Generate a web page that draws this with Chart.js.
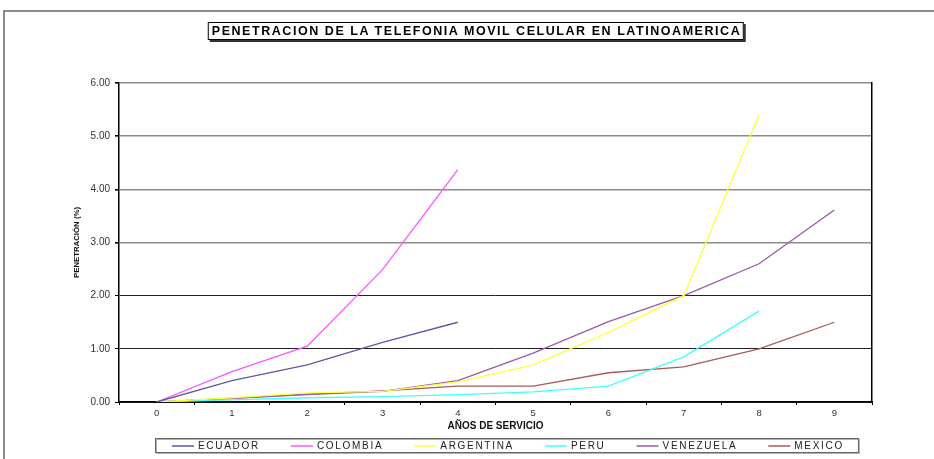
<!DOCTYPE html>
<html>
<head>
<meta charset="utf-8">
<script src="https://cdn.jsdelivr.net/npm/chart.js"></script>
<style>
    html, body {
        margin: 0;
        background: #fff;
    }

    #page {
        position: relative;
        width: 934px;
        height: 459px;
        overflow: hidden;
    }

    /* grey sheet edge, top and left */
    #page::before {
        content: '';
        position: absolute;
        left: 3px;
        top: 10px;
        right: -4px;
        bottom: -4px;
        border-top: 2px solid #8a8a8a;
        border-left: 2px solid #8a8a8a;
    }

    #title {
        position: absolute;
        left: 476px;
        top: 22px;
        transform: translateX(-50%);
        white-space: nowrap;
        font: bold 12.5px 'Liberation Sans', Arial, sans-serif;
        letter-spacing: 1.55px;
        line-height: 16px;
        padding: 0 2px 0 3px;
        border: 1px solid #000;
        box-shadow: 2px 2px 0 #333;
        background: #fff;
        color: #000;
        z-index: 2;
    }

    #chart {
        position: absolute;
        left: 0;
        top: 0;
        width: 934px;
        height: 459px;
    }
</style>
</head>
<body>
<div id="page">
    <div id="title">PENETRACION DE LA TELEFONIA MOVIL CELULAR EN LATINOAMERICA</div>
    <div id="chart"><canvas id="c"></canvas></div>
</div>

<script>
// years of service
const years = ['0', '1', '2', '3', '4', '5', '6', '7', '8', '9']

// penetration (%) per country, null where the country has no data yet
const ecuador   = [0, 0.40, 0.70, 1.12, 1.50, null, null, null, null, null]
const colombia  = [0, 0.57, 1.05, 2.49, 4.37, null, null, null, null, null]
const argentina = [0, 0.08, 0.17, 0.20, 0.38, 0.70, 1.31, 2.00, 5.40, null]
const peru      = [0, 0.04, 0.08, 0.10, 0.14, 0.19, 0.30, 0.85, 1.71, null]
const venezuela = [0, 0.07, 0.14, 0.20, 0.40, 0.92, 1.51, 2.00, 2.60, 3.61]
const mexico    = [0, 0.07, 0.15, 0.21, 0.30, 0.30, 0.55, 0.66, 1.00, 1.50]

const yTicks = [0, 1, 2, 3, 4, 5, 6]

const FONT = "'Liberation Sans', Arial, sans-serif"

// legend drawn in a single framed row, spaced like the original
const boxedLegend = {
    id: 'boxedLegend',
    afterDraw(chart, args, opts) {
        const ctx = chart.ctx
        const y = opts.y
        let x = opts.x

        ctx.save()
        ctx.font = opts.font
        ctx.letterSpacing = opts.letterSpacing
        ctx.textBaseline = 'middle'
        ctx.textAlign = 'left'

        chart.data.datasets.forEach(ds => {
            ctx.strokeStyle = ds.borderColor
            ctx.lineWidth = 1.5
            ctx.beginPath()
            ctx.moveTo(x, y)
            ctx.lineTo(x + opts.lineLength, y)
            ctx.stroke()
            x += opts.lineLength + opts.textGap
            ctx.fillStyle = '#222'
            ctx.fillText(ds.label, x, y)
            x += ctx.measureText(ds.label).width + opts.itemGap
        })
        x -= opts.itemGap

        const left = opts.x - 17
        const right = x + 14
        ctx.letterSpacing = '0px'
        ctx.strokeStyle = '#b0b0b0'
        ctx.lineWidth = 1
        ctx.strokeRect(left + 1.5, y - 6.5, right - left, 14)
        ctx.strokeStyle = '#666'
        ctx.strokeRect(left + 0.5, y - 7.5, right - left, 14)
        ctx.restore()
    }
}

new Chart(
    document.getElementById('c'),
    {
        type: 'line',

        data: {
            labels: years,
            datasets: [
                { label: 'ECUADOR',   data: ecuador,   borderColor: '#5a5aa2' },
                { label: 'COLOMBIA',  data: colombia,  borderColor: '#ff55ff' },
                { label: 'ARGENTINA', data: argentina, borderColor: '#ffff40' },
                { label: 'PERU',      data: peru,      borderColor: '#40ffff' },
                { label: 'VENEZUELA', data: venezuela, borderColor: '#9c5aa8' },
                { label: 'MEXICO',    data: mexico,    borderColor: '#a85a5a' }
            ]
        },

        options: {
            responsive: true,
            maintainAspectRatio: false,
            animation: false,

            layout: {
                padding: { left: 66, right: 62, top: 83, bottom: 27 }
            },

            elements: {
                line: { borderWidth: 1.3, tension: 0, fill: false },
                point: { radius: 0, hoverRadius: 0 }
            },

            plugins: {
                legend: { display: false },
                tooltip: { enabled: false },
                boxedLegend: {
                    x: 172,
                    y: 446,
                    lineLength: 22,
                    textGap: 4,
                    itemGap: 31,
                    font: '10px ' + FONT,
                    letterSpacing: '1.7px'
                }
            },

            scales: {
                x: {
                    offset: true,
                    afterFit: s => { s.height = 30 },
                    grid: {
                        offset: true,
                        drawOnChartArea: false,
                        drawTicks: true,
                        tickLength: 3,
                        color: '#000'
                    },
                    border: { color: '#000', width: 1.5 },
                    ticks: {
                        padding: 3,
                        color: '#333',
                        font: { family: FONT, size: 9.5 }
                    },
                    title: {
                        display: true,
                        text: 'AÑOS DE SERVICIO',
                        color: '#111',
                        padding: { top: 0, bottom: 0 },
                        font: { family: FONT, size: 10, weight: 'bold' }
                    }
                },

                y: {
                    min: 0,
                    max: 6,
                    afterFit: s => { s.width = 53 },
                    afterBuildTicks: s => { s.ticks = yTicks.map(v => ({ value: v })) },
                    grid: {
                        color: c => c.tick && c.tick.value >= 3 ? '#8c8c8c' : '#222',
                        lineWidth: c => c.tick && c.tick.value >= 3 ? 1.6 : 1,
                        tickColor: '#000',
                        tickLength: 4
                    },
                    border: { color: '#000', width: 1.5 },
                    ticks: {
                        padding: 5,
                        color: '#333',
                        font: { family: FONT, size: 10 },
                        callback: v => Number(v).toFixed(2)
                    },
                    title: {
                        display: true,
                        text: 'PENETRACIÓN (%)',
                        color: '#111',
                        padding: { top: 6, bottom: 0 },
                        font: { family: FONT, size: 7.8, weight: 'bold' }
                    }
                },

                // right edge of the plot frame
                yRight: {
                    position: 'right',
                    min: 0,
                    max: 6,
                    afterFit: s => { s.width = 0 },
                    grid: { display: false },
                    ticks: { display: false },
                    border: { color: '#000', width: 1.5 }
                }
            }
        },

        plugins: [boxedLegend]
    }
)
</script>
</body>
</html>
